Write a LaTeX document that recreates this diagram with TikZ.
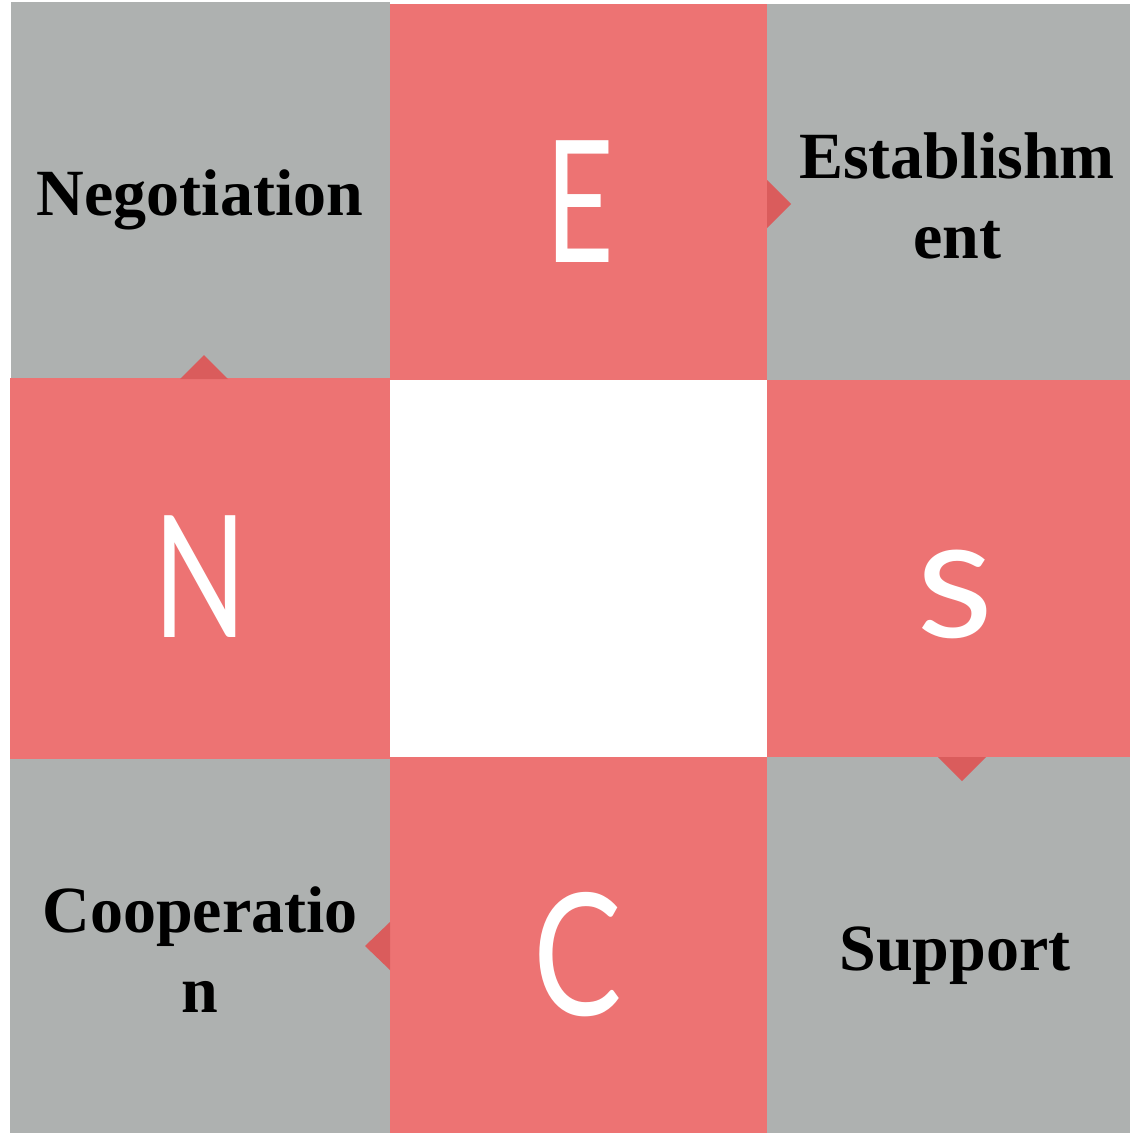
\documentclass[tikz,border=0pt]{standalone}
\usepackage{fontspec}
\setmainfont{Liberation Serif}
\newfontfamily\lettfont{Lato}
\definecolor{cellred}{HTML}{ED7373}
\definecolor{cellgray}{HTML}{AEB1B0}
\definecolor{tipred}{HTML}{DA5C5C}
\begin{document}
\begin{tikzpicture}[x=1pt,y=-1pt,
  cell/.style={inner sep=0pt, outer sep=0pt, draw=none},
  tip/.style={fill=tipred, draw=none},
  word/.style={font=\fontsize{66}{80}\selectfont\bfseries, text=black, align=center, inner sep=0pt},
  letter/.style={font=\lettfont\fontsize{170}{170}\selectfont, text=white, inner sep=0pt, anchor=base}]
\useasboundingbox (0,0) rectangle (1130,1133);
\fill[white] (0,0) rectangle (1130,1133);
% gray cells
\fill[cellgray] (11,2) rectangle (390,379);
\fill[cellgray] (767,4) rectangle (1130,380);
\fill[cellgray] (10,759) rectangle (390,1133);
\fill[cellgray] (767,757) rectangle (1130,1133);
% red cells
\fill[cellred] (390,4) rectangle (767,380);
\fill[cellred] (10,378) rectangle (390,759);
\fill[cellred] (767,380) rectangle (1130,757);
\fill[cellred] (390,757) rectangle (767,1133);
% tips
\coordinate (tE) at (767,204);
\coordinate (tN) at (204,379);
\coordinate (tS) at (962,757);
\coordinate (tC) at (390,946);
\fill[tip] ([yshift=-24]tE) -- ([xshift=24]tE) -- ([yshift=24]tE) -- cycle;
\fill[tip] ([xshift=-24]tN) -- ([yshift=24]tN) -- ([xshift=24]tN) -- cycle;
\fill[tip] ([xshift=-24]tS) -- ([yshift=-24]tS) -- ([xshift=24]tS) -- cycle;
\fill[tip] ([yshift=-24]tC) -- ([xshift=-25]tC) -- ([yshift=24]tC) -- cycle;
% letters
\node[letter, xscale=0.7] (lE) at (580,262) {E};
\node[letter, xscale=0.72] (lN) at (200,637) {N};
\node[letter, xscale=1.05] (lS) at (955,637) {s};
\node[letter, xscale=0.78] (lC) at (578,1015) {C};
% words
\node[word, anchor=base] (wNeg) at (200,215) {Negotiation};
\node[word, anchor=base] (wEst) at (957,258) {Establishm\\ent};
\node[word, anchor=base] (wCoo) at (200,1012) {Cooperatio\\n};
\node[word, anchor=base] (wSup) at (955,970) {Support};
\end{tikzpicture}
\end{document}
